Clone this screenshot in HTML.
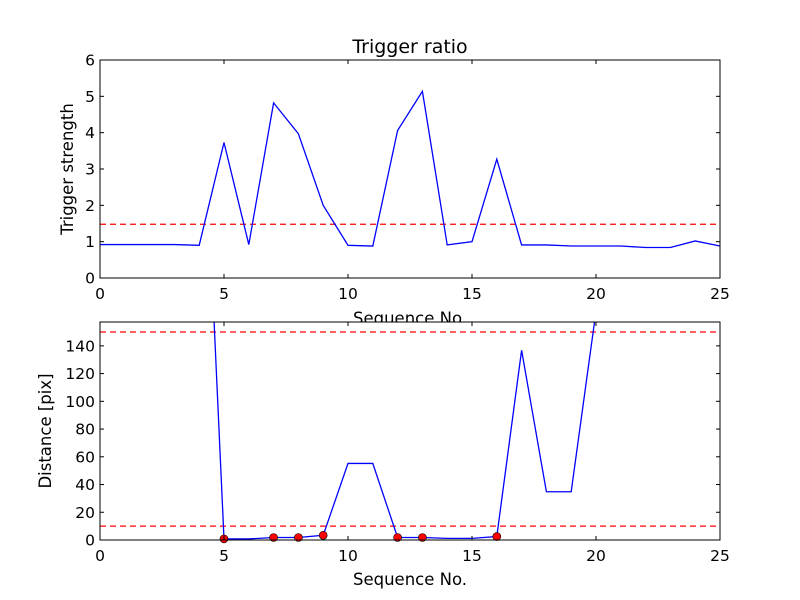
<!DOCTYPE html>
<html><head><meta charset="utf-8"><style>
html,body{margin:0;padding:0;background:#fff}
svg{display:block;font-family:"DejaVu Sans","Liberation Sans",sans-serif}
</style></head><body>
<svg id="chart" width="800" height="600" viewBox="0 0 800 600">
<rect width="800" height="600" fill="#fff"/>
</svg>
<script>
const seq = [0,1,2,3,4,5,6,7,8,9,10,11,12,13,14,15,16,17,18,19,20,21,22,23,24,25];
const strength = [0.92,0.92,0.92,0.92,0.9,3.73,0.92,4.82,3.97,2.0,0.9,0.88,4.06,5.14,0.91,1.0,3.27,0.91,0.91,0.88,0.88,0.88,0.84,0.84,1.02,0.88];
const strengthThreshold = [1.48];
const distance = [392,392,392,392,392,0.8,0.8,1.8,1.8,3.4,55.2,55.2,1.8,1.8,1.2,1.2,2.5,136.8,34.8,34.8,165,300,300,300,300,300];
const distanceThresholds = [10,150];
const triggerIdx = [5,7,8,9,12,13,16];
const xTicks = [0,5,10,15,20,25];
const topYTicks = [0,1,2,3,4,5,6];
const botYTicks = [0,20,40,60,80,100,120,140];

const NS="http://www.w3.org/2000/svg";
const svg=document.getElementById('chart');
function mk(tag,attrs,parent){const e=document.createElementNS(NS,tag);for(const k in attrs)e.setAttribute(k,attrs[k]);(parent||svg).appendChild(e);return e;}

function drawPanel(p){
  const g=mk('g',{});
  
  
  const L=100,R=720,T=p.top,B=p.bottom;
  const xs=v=>L+(v-0)/(25-0)*(R-L);
  const ys=v=>B-(v-p.ymin)/(p.ymax-p.ymin)*(B-T);
  const bg=mk('rect',{x:L,y:T,width:R-L,height:B-T,fill:'#fff'},g);
  
  
  const clipId='clip'+p.name;
  const cp=mk('clipPath',{id:clipId},g);mk('rect',{x:L,y:T,width:R-L,height:B-T},cp);
  const inner=mk('g',{'clip-path':'url(#'+clipId+')'},g);
  p.thresholds.forEach((t,i)=>{
    const l=mk('line',{x1:L,x2:R,y1:ys(t),y2:ys(t),stroke:'#ff0000','stroke-width':1.3,'stroke-dasharray':'6,4'},inner);
    
    
  });
  const d=seq.map((x,i)=>(i?'L':'M')+xs(x).toFixed(2)+','+ys(p.values[i]).toFixed(2)).join(' ');
  const path=mk('path',{d:d,fill:'none',stroke:'#0000ff','stroke-width':1.3},inner);
  
  
  if(p.markers){
    p.markers.forEach(i=>{
      const c=mk('circle',{cx:xs(seq[i]),cy:ys(p.values[i]),r:4,fill:'#ff0000',stroke:'#000','stroke-width':0.6},g);
      
      
    });
  }
  const frame=mk('rect',{x:L,y:T,width:R-L,height:B-T,fill:'none',stroke:'#000','stroke-width':1},g);
  
  
  xTicks.forEach(t=>{
    const x=xs(t);
    mk('line',{x1:x,x2:x,y1:B,y2:B-4,stroke:'#000'},g);
    mk('line',{x1:x,x2:x,y1:T,y2:T+4,stroke:'#000'},g);
    const tx=mk('text',{x:x,y:B+21,'font-size':15.5,'text-anchor':'middle'},g);
    tx.textContent=t;
    
    
  });
  p.yticks.forEach(t=>{
    const y=ys(t);
    mk('line',{x1:L,x2:L+4,y1:y,y2:y,stroke:'#000'},g);
    mk('line',{x1:R,x2:R-4,y1:y,y2:y,stroke:'#000'},g);
    const tx=mk('text',{x:L-5,y:y+5.5,'font-size':15.5,'text-anchor':'end'},g);
    tx.textContent=t;
    
    
  });
  const yl=mk('text',{x:0,y:0,'font-size':16.5,'text-anchor':'middle',transform:'translate('+p.ylabelX+','+((T+B)/2)+') rotate(-90)'},g);
  yl.textContent=p.ylabel;
  
  
}

const tt=mk('text',{x:410,y:53,'font-size':19,'text-anchor':'middle'});
tt.textContent='Trigger ratio';



drawPanel({name:'trigger-strength-panel',top:60,bottom:278,ymin:0,ymax:6,values:strength,thresholds:strengthThreshold,yticks:topYTicks,ylabel:'Trigger strength',ylabelX:73});

const xl1=mk('text',{x:410,y:324,'font-size':16.5,'text-anchor':'middle'});
xl1.textContent='Sequence No.';



drawPanel({name:'distance-panel',top:322,bottom:540,ymin:0,ymax:157.2,values:distance,thresholds:distanceThresholds,yticks:botYTicks,ylabel:'Distance [pix]',ylabelX:51,markers:triggerIdx});

const xl2=mk('text',{x:410,y:585,'font-size':16.5,'text-anchor':'middle'});
xl2.textContent='Sequence No.';


</script>
</body></html>
